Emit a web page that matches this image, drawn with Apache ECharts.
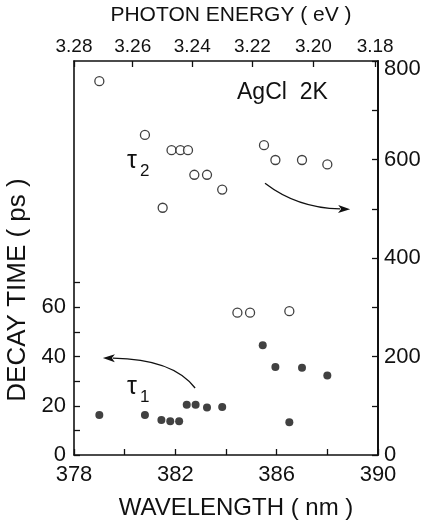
<!DOCTYPE html>
<html><head><meta charset="utf-8">
<script src="https://cdn.jsdelivr.net/npm/echarts@6/dist/echarts.min.js"></script>
<style>html,body{margin:0;padding:0;background:#fff}#c{width:428px;height:524px}</style>
</head><body><div id="c"></div>
<script>
// ---- data ----
const tau2Wavelength = [379.0, 380.8, 381.5, 381.85, 382.2, 382.5, 382.75, 383.25, 383.85, 384.45, 384.95, 385.5, 385.95, 386.5, 387.0, 388.0];
const tau2Values     = [759,   650,   502,   619,    619,   619,   569,    569,    539,    289,    289,    629,   599,    292,   599,   590];
const tau1Wavelength = [379.0, 380.8, 381.45, 381.8, 382.15, 382.45, 382.8, 383.25, 383.85, 385.45, 385.95, 386.5, 387.0, 388.0];
const tau1Values     = [16.2,  16.2,  14.2,   13.7,  13.7,   20.4,   20.4,  19.3,   19.5,   44.6,   35.7,   13.3,  35.4,  32.3];

const wavelengthTicks  = [378, 380, 382, 384, 386, 388, 390];
const wavelengthLabels = [378, 382, 386, 390];
const energyLabels     = [3.28, 3.26, 3.24, 3.22, 3.20, 3.18];
const leftTicks        = [0, 10, 20, 30, 40, 50, 60, 70];
const leftLabels       = [0, 20, 40, 60];
const rightTicks       = [0, 100, 200, 300, 400, 500, 600, 700, 800];
const rightLabels      = [0, 200, 400, 600, 800];

const HC = 1239.84; // eV*nm
const FONT = 'Liberation Sans';
const BLACK = '#111';
const line = { color: BLACK, width: 1.6 };
const tickStyle = { color: BLACK, width: 1.3 };
const lbl = (size) => ({ fontFamily: FONT, fontSize: size, color: BLACK });

const chart = echarts.init(document.getElementById('c'));
chart.setOption({
  animation: false,
  backgroundColor: '#fff',
  grid: { left: 74, right: 50, top: 61, bottom: 69, containLabel: false, outerBoundsMode: 'none' },
  xAxis: [
    {
      type: 'value', min: 378, max: 390, position: 'bottom',
      name: 'WAVELENGTH ( nm )', nameLocation: 'middle', nameGap: 41,
      nameTextStyle: Object.assign(lbl(24), { padding: [0, 0, 0, 20] }),
      axisLine: { show: true, onZero: false, lineStyle: line },
      axisTick: { show: true, inside: true, length: 6, customValues: wavelengthTicks, lineStyle: tickStyle },
      axisLabel: Object.assign(lbl(22), { customValues: wavelengthLabels, margin: 9 }),
      splitLine: { show: false }
    },
    {
      type: 'value', min: 378, max: 390, position: 'top',
      name: 'PHOTON ENERGY ( eV )', nameLocation: 'middle', nameGap: 35,
      nameTextStyle: Object.assign(lbl(21), { padding: [0, 0, 0, 10] }),
      axisLine: { show: true, onZero: false, lineStyle: line },
      axisTick: { show: true, inside: true, length: 6, customValues: energyLabels.map(e => HC / e), lineStyle: tickStyle },
      axisLabel: Object.assign(lbl(19), { customValues: energyLabels.map(e => HC / e), margin: 5,
        formatter: v => (HC / v).toFixed(2) }),
      splitLine: { show: false }
    }
  ],
  yAxis: [
    {
      type: 'value', min: 0, max: 160, position: 'left',
      name: 'DECAY TIME ( ps )', nameLocation: 'middle', nameGap: 40,
      nameTextStyle: Object.assign(lbl(26), { padding: [0, 64, 0, 0] }),
      axisLine: { show: true, onZero: false, lineStyle: line },
      axisTick: { show: true, inside: true, length: 6, customValues: leftTicks, lineStyle: tickStyle },
      axisLabel: Object.assign(lbl(22), { customValues: leftLabels, margin: 8 }),
      splitLine: { show: false }
    },
    {
      type: 'value', min: 0, max: 800, position: 'right',
      axisLine: { show: true, onZero: false, lineStyle: { color: BLACK, width: 2 } },
      axisTick: { show: true, inside: true, length: 6, customValues: rightTicks, lineStyle: tickStyle },
      axisLabel: Object.assign(lbl(22), { customValues: rightLabels, margin: 6,
        formatter: v => v === 800 ? '{low|800}' : String(v),
        rich: { low: { fontFamily: FONT, fontSize: 22, color: BLACK, padding: [16, 0, 0, 0] } } }),
      splitLine: { show: false }
    }
  ],
  series: [
    {
      name: 'τ2', type: 'scatter', xAxisIndex: 0, yAxisIndex: 1,
      data: tau2Wavelength.map((w, i) => [w, tau2Values[i]]),
      symbol: 'circle', symbolSize: 9,
      itemStyle: { color: '#fff', borderColor: BLACK, borderWidth: 1.3 }
    },
    {
      name: 'τ1', type: 'scatter', xAxisIndex: 0, yAxisIndex: 0,
      data: tau1Wavelength.map((w, i) => [w, tau1Values[i]]),
      symbol: 'circle', symbolSize: 8,
      itemStyle: { color: BLACK }
    }
  ]
});

// ---- annotations (arrows in data coordinates of the right axis) ----
function px(w, v) { return chart.convertToPixel({ xAxisIndex: 0, yAxisIndex: 1 }, [w, v]); }
function arrow(start, ctrl, end) {
  const s = px(start[0], start[1]), c = px(ctrl[0], ctrl[1]), e = px(end[0], end[1]);
  const dx = e[0] - c[0], dy = e[1] - c[1], L = Math.hypot(dx, dy);
  const ux = dx / L, uy = dy / L, hl = 12, hw = 4;
  const bx = e[0] - ux * hl, by = e[1] - uy * hl;
  return [
    { type: 'bezierCurve', shape: { x1: s[0], y1: s[1], cpx1: c[0], cpy1: c[1], x2: bx + ux * 2, y2: by + uy * 2 },
      style: { stroke: BLACK, lineWidth: 1.3, fill: null } },
    { type: 'polygon', shape: { points: [[e[0], e[1]], [bx - uy * hw, by + ux * hw], [bx + ux * 3, by + uy * 3], [bx + uy * hw, by - ux * hw]] },
      style: { fill: BLACK } }
  ];
}
const g = [];
g.push(...arrow([385.54, 552], [386.8, 502], [388.9, 499]));
g.push(...arrow([382.78, 136], [381.9, 195], [379.14, 197]));
g.push({ type: 'text', left: 237, top: 81, style: { text: 'AgCl  2K', font: '23px ' + FONT, fill: BLACK } });
g.push({ type: 'text', left: 127, top: 149, style: { text: '{t|τ}{s|2}', rich: {
  t: { fontFamily: FONT, fontSize: 25, fill: BLACK, color: BLACK, verticalAlign: 'top' },
  s: { fontFamily: FONT, fontSize: 17, fill: BLACK, color: BLACK, padding: [14, 0, 0, 3] } } } });
g.push({ type: 'text', left: 127, top: 375, style: { text: '{t|τ}{s|1}', rich: {
  t: { fontFamily: FONT, fontSize: 25, fill: BLACK, color: BLACK, verticalAlign: 'top' },
  s: { fontFamily: FONT, fontSize: 17, fill: BLACK, color: BLACK, padding: [14, 0, 0, 3] } } } });
chart.setOption({ graphic: g });
</script>
</body></html>
